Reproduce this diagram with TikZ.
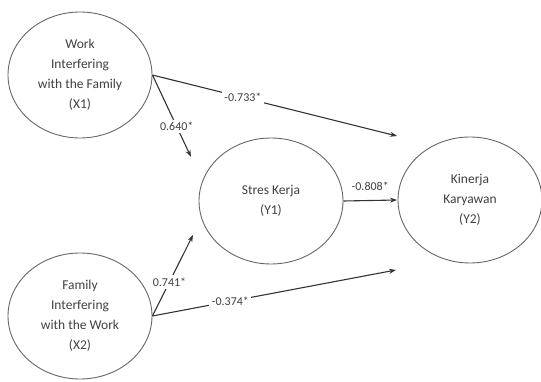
\documentclass[tikz,border=0pt]{standalone}
\usepackage{fontspec}
\setmainfont{Carlito}
\usetikzlibrary{shapes.geometric,arrows.meta}
\begin{document}
\begin{tikzpicture}[x=1pt,y=-1pt,
  latent/.style={ellipse,draw=black!60,line width=0.9pt,minimum width=144pt,minimum height=126pt,inner sep=0pt,align=center,font=\fontsize{13.5}{20}\selectfont,text=black!75},
  path/.style={draw=black!80,line width=1.1pt,-{Stealth[length=7pt,width=5pt]}},
  coef/.style={fill=white,inner sep=2.5pt,font=\fontsize{12}{14}\selectfont,text=black!75}]
\useasboundingbox (0,0) rectangle (541,382);
\node[latent] (x1) at (80,75) {Work\\Interfering\\with the Family\\(X1)};
\node[latent] (x2) at (80,316) {Family\\Interfering\\with the Work\\(X2)};
\node[latent] (y1) at (271,201) {Stres Kerja\\(Y1)};
\node[latent] (y2) at (470,200) {Kinerja\\Karyawan\\(Y2)};
\coordinate (t1) at (397,136);
\coordinate (t2) at (191,157);
\coordinate (t3) at (397,200);
\coordinate (t4) at (193,235);
\coordinate (t5) at (396,270);
\draw[path] (x1.east) -- node[coef,pos=0.37] {-0.733*} (t1);
\draw[path] (x1.east) -- node[coef,pos=0.63] {0.640*} (t2);
\draw[path] (y1.east) -- node[coef,above=7pt,midway] {-0.808*} (t3);
\draw[path] (x2.east) -- node[coef,pos=0.42] {0.741*} (t4);
\draw[path] (x2.east) -- node[coef,pos=0.32] {-0.374*} (t5);
\end{tikzpicture}
\end{document}
